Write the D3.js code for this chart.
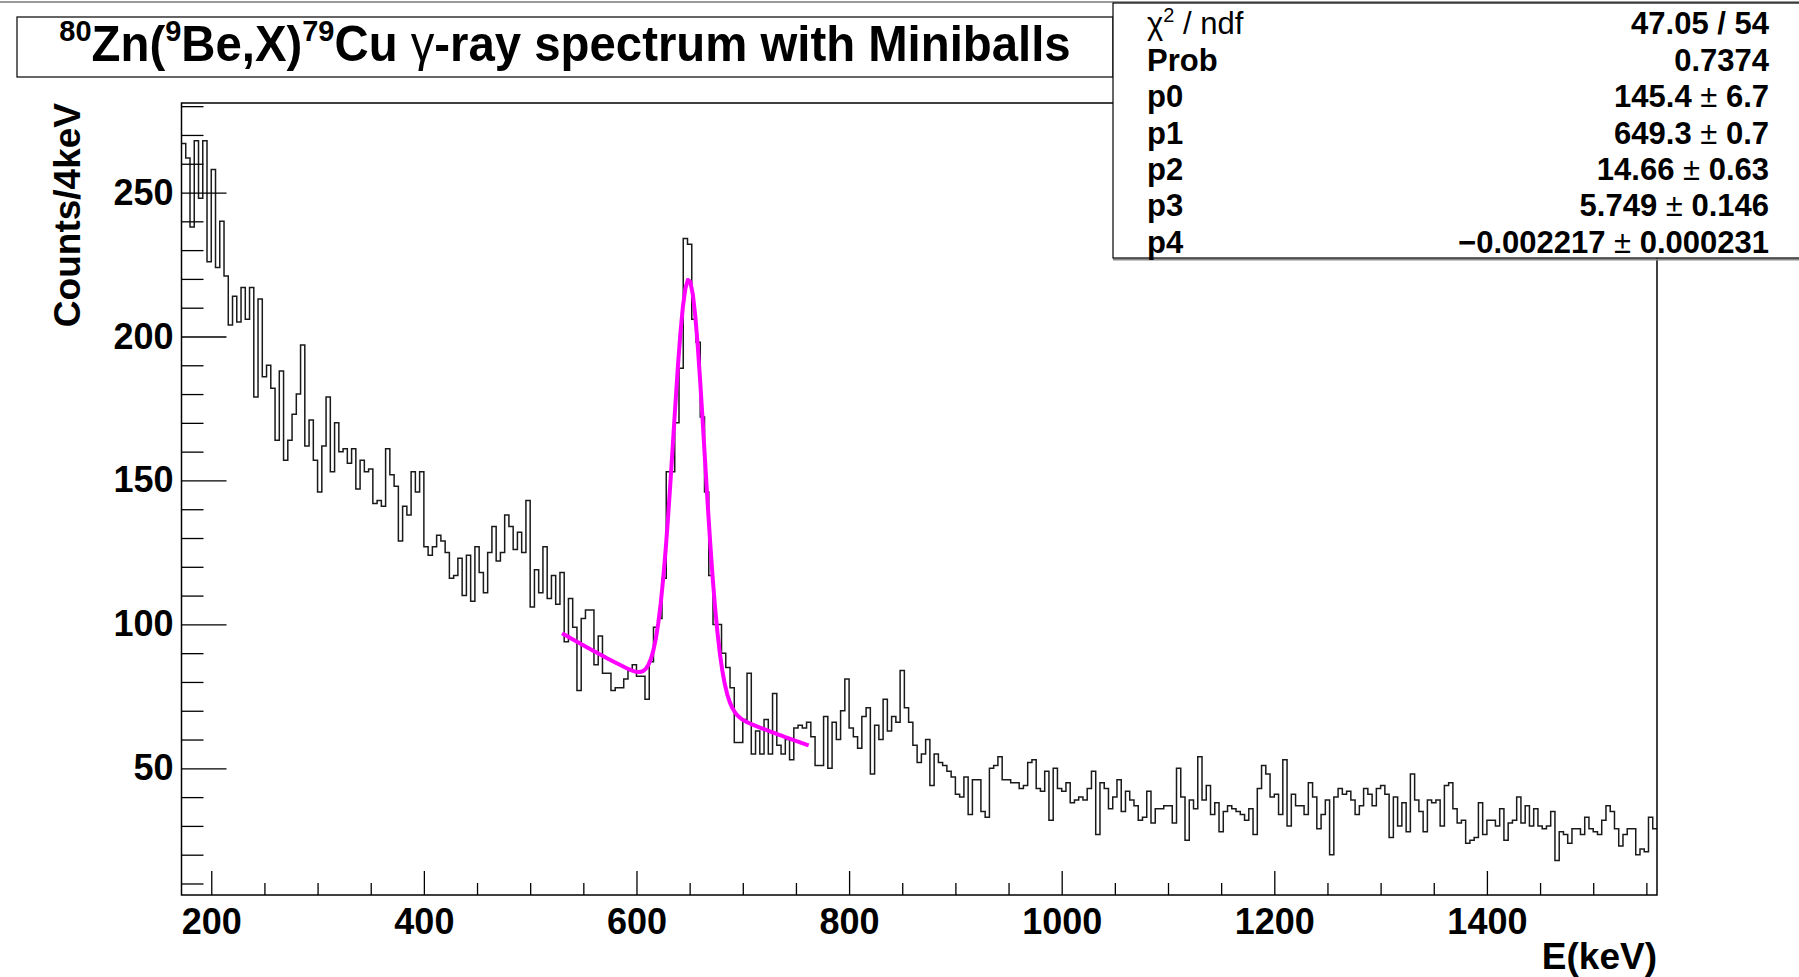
<!DOCTYPE html>
<html lang="en">
<head>
<meta charset="UTF-8">
<title>80Zn(9Be,X)79Cu gamma-ray spectrum</title>
<script src="https://d3js.org/d3.v7.min.js"></script>
<style>
  body { margin: 0; background: #fff; }
  svg { display: block; font-family: "Liberation Sans", Arial, Helvetica, sans-serif; font-weight: bold; }
</style>
</head>
<body>
<svg width="1799" height="977"></svg>
<script>
// 4 keV bins, first bin starts at 172 keV
const binStart = 172, binWidth = 4;
const counts = [
  267,262,238,268,248,268,226,258,224,240,221,204,214,205,217,206,217,179,213,186,
  190,182,164,188,157,164,173,180,197,162,171,157,146,162,179,153,170,160,161,156,
  161,147,157,153,154,142,143,141,161,152,148,129,141,138,153,146,153,127,124,127,
  131,129,125,116,117,123,110,124,108,127,118,111,125,134,122,125,138,134,126,132,
  125,143,106,119,111,127,109,117,107,118,94,109,99,77,102,105,105,86,96,83,
  83,77,78,78,81,84,86,82,82,74,87,99,102,116,153,153,170,189,234,232,
  206,198,172,146,117,100,100,90,85,78,59,59,67,83,55,63,55,67,55,76,
  58,55,60,53,64,65,64,66,61,51,51,68,50,66,60,70,81,64,61,57,
  68,71,48,65,60,74,63,68,66,84,71,66,58,52,55,60,44,55,52,51,
  49,47,41,40,47,34,46,46,35,33,50,51,54,46,46,45,45,43,44,52,
  53,43,42,49,32,50,43,42,45,38,39,40,39,43,49,27,45,43,36,40,
  46,35,42,39,37,32,33,42,31,36,36,37,37,31,50,40,25,39,36,54,
  39,44,34,38,28,35,37,36,35,34,32,36,27,43,51,48,40,41,34,53,
  30,41,37,37,34,45,40,29,34,39,20,40,43,41,42,39,34,37,43,41,
  37,43,44,41,26,40,30,38,28,48,39,35,28,39,38,39,30,44,45,36,
  31,32,24,25,26,38,27,32,32,30,36,25,31,32,40,31,37,30,36,30,
  29,30,35,18,28,27,24,29,29,27,33,29,28,27,32,37,35,29,23,27,
  29,29,20,22,21,33,29
];

const xMajorTicks = [200, 400, 600, 800, 1000, 1200, 1400];
const yMajorTicks = [50, 100, 150, 200, 250];

// gaus(0..2) + expo(3..4), fitted over 530-762 keV
const fitParams = [145.4, 649.3, 14.66, 5.749, -0.002217];
const fitRange = [530, 762];

const statNames = ["chi2", "Prob", "p0", "p1", "p2", "p3", "p4"];
const statValues = ["47.05 / 54", "0.7374", "145.4 ± 6.7", "649.3 ± 0.7",
                    "14.66 ± 0.63", "5.749 ± 0.146", "\u22120.002217 ± 0.000231"];

const svg = d3.select("svg");
const frame = { left: 181.5, right: 1657, top: 103, bottom: 895 };

const nBins = counts.length;
const x = d3.scaleLinear()
  .domain([binStart, binStart + nBins * binWidth])
  .range([frame.left, frame.right]);
const y = d3.scaleLinear().domain([6, 281.1]).range([frame.bottom, frame.top]);

// canvas top edge
svg.append("line").attr("x1", 0).attr("x2", 1799).attr("y1", 2).attr("y2", 2)
  .attr("stroke", "#9a9a9a").attr("stroke-width", 2);

// histogram outline
const steps = counts.map((c, i) => [binStart + i * binWidth, c]);
steps.push([binStart + nBins * binWidth, counts[nBins - 1]]);
svg.append("path")
  .datum(steps)
  .attr("fill", "none")
  .attr("stroke", "#1a1a1a")
  .attr("stroke-width", 1.5)
  .attr("d", d3.line().x(d => x(d[0])).y(d => y(d[1])).curve(d3.curveStepAfter));

// fit function
const [p0, p1, p2, p3, p4] = fitParams;
const fitFn = e => p0 * Math.exp(-0.5 * ((e - p1) / p2) ** 2) + Math.exp(p3 + p4 * e);
const fitPts = d3.range(101).map(i => fitRange[0] + i * (fitRange[1] - fitRange[0]) / 100);
svg.append("path")
  .datum(fitPts)
  .attr("fill", "none")
  .attr("stroke", "#ff00ff")
  .attr("stroke-width", 4)
  .attr("stroke-linejoin", "round")
  .attr("d", d3.line().x(e => x(e)).y(e => y(fitFn(e))));

// axes, ROOT style: ticks pointing inside the frame
function styleAxis(g) {
  g.select(".domain").remove();
  g.attr("font-family", null).attr("font-size", null);
  g.selectAll("line").attr("stroke", "#000").attr("stroke-width", 1.3);
  g.selectAll("text").attr("fill", "#000").style("font-size", "36px");
}

const xMinor = d3.range(200, 1560, 50).filter(v => v % 200 !== 0);
svg.append("g").attr("transform", `translate(0,${frame.bottom})`)
  .call(d3.axisBottom(x).tickValues(xMinor).tickSizeInner(-12).tickSizeOuter(0).tickFormat(""))
  .call(styleAxis);
svg.append("g").attr("transform", `translate(0,${frame.bottom})`)
  .call(d3.axisBottom(x).tickValues(xMajorTicks).tickSizeInner(-24).tickSizeOuter(0)
    .tickPadding(13).tickFormat(d3.format("d")))
  .call(styleAxis);

const yMinor = d3.range(10, 281, 10).filter(v => v % 50 !== 0);
svg.append("g").attr("transform", `translate(${frame.left},0)`)
  .call(d3.axisLeft(y).tickValues(yMinor).tickSizeInner(-22).tickSizeOuter(0).tickFormat(""))
  .call(styleAxis);
svg.append("g").attr("transform", `translate(${frame.left},0)`)
  .call(d3.axisLeft(y).tickValues(yMajorTicks).tickSizeInner(-45).tickSizeOuter(0)
    .tickPadding(8).tickFormat(d3.format("d")))
  .call(styleAxis);

// frame
svg.append("rect")
  .attr("x", frame.left).attr("y", frame.top)
  .attr("width", frame.right - frame.left).attr("height", frame.bottom - frame.top)
  .attr("fill", "none").attr("stroke", "#000").attr("stroke-width", 1.5);

// axis titles
svg.append("text")
  .attr("x", frame.right).attr("y", 969)
  .attr("text-anchor", "end").style("font-size", "37px")
  .text("E(keV)");
svg.append("text")
  .attr("transform", `translate(80,${frame.top}) rotate(-90)`)
  .attr("text-anchor", "end").style("font-size", "37px")
  .text("Counts/4keV");

// title box
svg.append("rect").attr("x", 17).attr("y", 17).attr("width", 1096).attr("height", 60)
  .attr("fill", "#fff").attr("stroke", "#000").attr("stroke-width", 1.2);
const title = svg.append("text")
  .attr("transform", "translate(565,61) scale(0.966,1)")
  .attr("text-anchor", "middle").style("font-size", "49px");
const sup = (t, s) => {
  title.append("tspan").attr("dy", -20).style("font-size", "30px").text(s);
  title.append("tspan").attr("dy", 20).text(t);
};
sup("Zn(", "80");
sup("Be,X)", "9");
sup("Cu ", "79");
title.append("tspan").style("font-weight", "normal").text("\u03b3");
title.append("tspan").text("-ray spectrum with Miniballs");

// fit statistics box
const box = { x: 1113, y: 3, w: 700, h: 255 };
svg.append("line").attr("x1", box.x).attr("x2", 1799)
  .attr("y1", box.y + box.h + 1.5).attr("y2", box.y + box.h + 1.5)
  .attr("stroke", "#8a8a8a").attr("stroke-width", 2);
svg.append("rect").attr("x", box.x).attr("y", box.y).attr("width", box.w).attr("height", box.h)
  .attr("fill", "#fff").attr("stroke", "#000").attr("stroke-width", 1.2);

const rowH = box.h / statNames.length;
statNames.forEach((name, i) => {
  const base = box.y + rowH * (i + 0.5) + 13;
  const lab = svg.append("text").attr("x", 1147).attr("y", base).style("font-size", "31px");
  if (name === "chi2") {
    lab.style("font-weight", "normal");
    lab.append("tspan").text("\u03c7");
    lab.append("tspan").attr("dy", -12).style("font-size", "20px").text("2");
    lab.append("tspan").attr("dy", 12).text(" / ndf");
  } else {
    lab.text(name);
  }
  const val = svg.append("text").attr("x", 1769).attr("y", base)
    .attr("text-anchor", "end").style("font-size", "31px");
  const parts = statValues[i].split("±");
  val.append("tspan").text(parts[0]);
  if (parts.length > 1) {
    val.append("tspan").style("font-weight", "normal").text("±");
    val.append("tspan").text(parts[1]);
  }
});
</script>
</body>
</html>
